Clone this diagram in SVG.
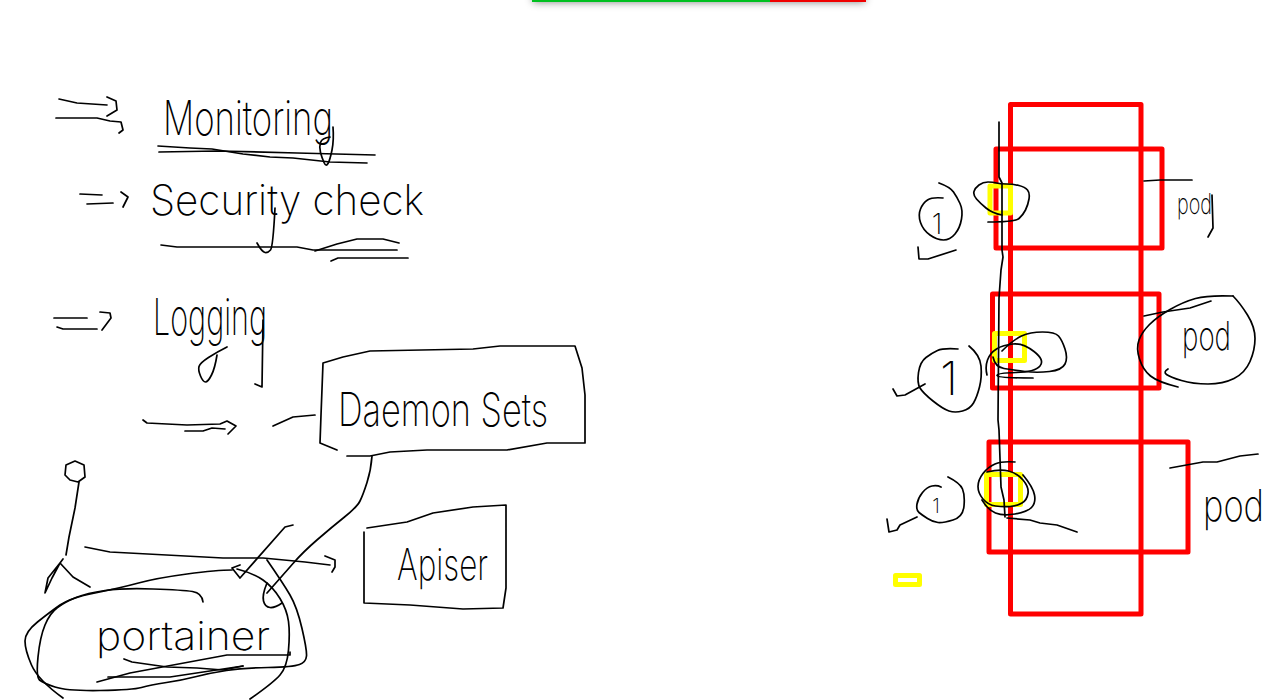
<svg xmlns="http://www.w3.org/2000/svg" width="1286" height="700" viewBox="0 0 1286 700">
<style>
.s{fill:none;stroke:#000;stroke-width:1.7;stroke-linejoin:round;stroke-linecap:round}
.r{fill:none;stroke:#f00;stroke-width:5;stroke-linejoin:round}
.y{fill:none;stroke:#ff0;stroke-width:5;stroke-linejoin:round}
.t{font-family:"Inter","Liberation Sans",Arial,sans-serif;font-weight:200;fill:#000}
</style>
<defs><filter id="b" x="-10%" y="-100%" width="120%" height="400%"><feGaussianBlur stdDeviation="4"/></filter></defs>
<rect width="1286" height="700" fill="#fff"/>
<g id="topbar">
<rect x="533" y="-8" width="332" height="10" fill="#000" opacity="0.5" filter="url(#b)"/>
<rect x="532" y="-6" width="238" height="8" fill="#00c020"/>
<rect x="770" y="-6" width="96" height="8" fill="#f00000"/>
</g>
<g id="red-boxes">
<rect class="r" x="1010.5" y="104.5" width="130.500" height="509.500"/>
<rect class="r" x="996" y="149" width="166" height="99"/>
<rect class="r" x="992.500" y="294" width="166.500" height="94"/>
<rect class="r" x="989" y="442" width="199" height="110"/>
</g>
<g id="yellow-boxes">
<rect class="y" x="990" y="186" width="20.500" height="27"/>
<rect class="y" x="994.500" y="333.500" width="30" height="27"/>
<rect class="y" x="986.500" y="474.500" width="34" height="30"/>
<rect class="y" x="895.500" y="575.500" width="24" height="9"/>
</g>
<g id="connectors">
<polyline class="s" points="59,99 77,103 107,105"/>
<polyline class="s" points="107,97 116,101 117,110 107,116"/>
<polyline class="s" points="56,118 97,118 110,121 121,122 123,130 119,133"/>
<polyline class="s" points="80,194 102,195"/><polyline class="s" points="87,204 113,203"/><polyline class="s" points="121,192 128,197 123,207"/>
<polyline class="s" points="54,318 87,318"/><polyline class="s" points="57,327 63,329 97,329"/><polyline class="s" points="100,312 110,313 111,318 102,330"/>
<polyline class="s" points="143,420 147,423 187,425 220,424 227,421 236,426 228,434"/>
<polyline class="s" points="185,431 203,431 212,428 225,429"/>
<polyline class="s" points="273,426 293,417 315,415"/>
<path class="s" d="M372,456 Q371,470 367,482.500 363,495 360,501 357,507 344.500,517 332,527 317.500,539.500 303,552 293,563.500 283,575 267,593"/>
<polyline class="s" points="85,547 110,552 223,558 263,558 305,562 330,565"/>
<polyline class="s" points="325,556 335,560 335,567 332,572"/>
<polyline class="s" points="293,525 285,527 240,578 232,568 240,565"/>
<path class="s" d="M267,583 Q262,595 263.500,601 265,607 270,607.500 275,608 282,603"/>
<polyline class="s" points="158,146 190,148 212,149 243,154 270,157 293,158 330,162 367,163"/>
<polyline class="s" points="159,152 217,151 297,153 375,155"/>
<path class="s" d="M333,127 Q334,140 332,150 330,160 328,163.500 326,167 324,162.500 322,158 320.500,152.500 319,147 320.500,142.500 322,138 330,137"/>
<polyline class="s" points="161,245 177,247 297,247 313,250 397,250"/>
<polyline class="s" points="315,251 337,244 357,239 383,239 399,243"/>
<polyline class="s" points="331,261 338,258 408,258"/>
<path class="s" d="M275,208 Q273,247 270.500,250 268,253 265,252.500 262,252 257,243 257,237"/>
<polyline class="s" points="263,320 262,387 255,384"/>
<path class="s" d="M227,347 Q217,352 208.500,357.500 200,363 199,366.500 198,370 200.500,376 203,382 205.500,382 208,382 211.500,375 215,368 217,355"/>
<polyline class="s" points="999,122 999,177 1002,183 1002,250 1003,257 1001,270 999,298 998,420 999,430 1001,487 1004,500 1005,517"/>
<polyline class="s" points="1144,181 1160,180 1192,180"/>
<polyline class="s" points="1212,195 1213,228 1208,237"/>
<polyline class="s" points="1211,301 1190,308 1163,312 1144,316"/>
<polyline class="s" points="1170,468 1203,462 1217,462 1240,456 1258,454"/>
<polyline class="s" points="1007,518 1030,520 1040,523 1057,525 1077,532"/>
<polyline class="s" points="918,247 919,259 928,259 956,250"/>
<polyline class="s" points="893,389 897,396 905,395 925,384"/>
<polyline class="s" points="887,519 889,532 897,530 900,525 917,517"/>
</g>
<g id="monitoring"><text class="t" x="163" y="135" font-size="48" textLength="170" lengthAdjust="spacingAndGlyphs">Monitoring</text></g>
<g id="security-check"><text class="t" x="150" y="215" font-size="42" textLength="274" lengthAdjust="spacingAndGlyphs">Security check</text></g>
<g id="logging"><text class="t" x="153" y="335" font-size="50" textLength="114" lengthAdjust="spacingAndGlyphs">Logging</text></g>
<g id="daemonsets">
<polyline class="s" points="337,450 320,443 321,415 323,363 343,357 370,351 473,349 500,346 575,346 582,368 585,395 585,443 547,443 507,450 427,450 390,452 370,456 347,456"/>
<text class="t" x="338" y="426" font-size="46" textLength="210" lengthAdjust="spacingAndGlyphs">Daemon Sets</text>
</g>
<g id="apiserver">
<polyline class="s" points="367,528 407,522 433,513 473,507 506,505 506,588 503,608 463,609 410,605 364,603 364,532"/>
<text class="t" x="397" y="580" font-size="44" textLength="91" lengthAdjust="spacingAndGlyphs">Apiser</text>
</g>
<g id="actor">
<polygon class="s" points="75,461 84,465 85,477 78,482 70,480 65,475 66,465"/>
<polyline class="s" points="79,482 75,508 69,537 66,555"/>
<polyline class="s" points="63,559 60,563 48,578 45,593 52,578 60,563 73,577 90,587"/>
</g>
<g id="portainer">
<path class="s" d="M232,570 Q217,570 187,574 157,578 138.500,583 120,588 95,593 70,598 60,605 50,612 37.500,622 25,632 25,641 25,650 31.500,665 38,680 63,698"/>
<path class="s" d="M203,602 Q202,593 192.500,591.500 183,590 153,589 123,588 105,590.500 87,593 76,597.500 65,602 57.500,607.500 50,613 45,625 40,637 38,657 36,677 39.500,680 43,683 55,687 67,691 100,690.500 133,690 141.500,687.500 150,685 166.500,682.500 183,680 196.500,676.500 210,673 226.500,670.500 243,668 268,667.500 293,667 299.500,664.500 306,662 306.500,656 307,650 302,628.500 297,607 290,595 283,583 267,560"/>
<path class="s" d="M237,569 Q253,573 263,580 273,587 280,598.500 287,610 288.500,621.500 290,633 288.500,650 287,667 280,675 273,683 250,699"/>
<polyline class="s" points="124,659 132,662 167,667 197,668 223,670 243,666"/>
<polyline class="s" points="97,682 130,673 227,655 290,655 290,652"/>
<polyline class="s" points="108,677 170,677 243,666"/>
<text class="t" x="96" y="650" font-size="40" textLength="174" lengthAdjust="spacingAndGlyphs">portainer</text>
</g>
<g id="node-1">
<path class="s" d="M939,183 Q950,187 953.500,192 957,197 960,203.500 963,210 961.500,219 960,228 955,234 950,240 943.500,240 937,240 930,235 923,230 920.500,222.500 918,215 920.500,209 923,203 927.500,200 932,197 943,198"/>
<text class="t" x="937" y="234" font-size="28" text-anchor="middle">1</text>
<path class="s" d="M1002,215 Q992,213 986,208 980,203 976.500,199 973,195 974,191.500 975,188 979,185 983,182 988,182 993,182 996.500,183 1000,184 1006.500,184 1013,184 1019,185.500 1025,187 1027.500,190 1030,193 1029,199 1028,205 1025.500,210 1023,215 1019,218.500 1015,222 988,222"/>
</g>
<g id="node-2">
<path class="s" d="M969,346 Q980,355 981,366 982,377 979.500,387 977,397 973.500,403 970,409 962.500,411 955,413 949,411 943,409 933,401 923,393 920,388 917,383 918.500,372.500 920,362 926,357.500 932,353 937.500,350.500 943,348 958,349"/>
<text class="t" x="949" y="395" font-size="46" text-anchor="middle">1</text>
<path class="s" d="M1002,351 Q1013,340 1021.500,336 1030,332 1042.500,332 1055,332 1058.500,336 1062,340 1065,349 1068,358 1065,364 1062,370 1049.500,371.500 1037,373 1025,371.500 1013,370 1004,368.500 995,367 993,357"/>
<path class="s" d="M987,375 Q985,367 987.500,360 990,353 996.500,349 1003,345 1013,344 1023,343 1034,351.500 1045,360 1040,366 1035,372 1016,372.500 997,373 997,375.500 997,378 1033,378"/>
</g>
<g id="node-3">
<path class="s" d="M948,477 Q960,483 962.500,489 965,495 964,506 963,517 953,520 943,523 938,522.500 933,522 927.500,518.500 922,515 919,512.500 916,510 917,504 918,498 922.500,492.500 927,487 932,486 937,485 941,487"/>
<text class="t" x="936" y="513" font-size="20" text-anchor="middle">1</text>
<path class="s" d="M1015,462 Q1002,461 995,464 988,467 983,473.500 978,480 978,486.500 978,493 983,499 988,505 995.500,506 1003,507 1010,506.500 1017,506 1022,503 1027,500 1028,493.500 1029,487 1023,480 1017,473 1008.500,471 1000,469 987,472"/>
<path class="s" d="M982,500 Q988,510 995.500,513 1003,516 1015,514 1027,512 1031.500,507.500 1036,503 1034.500,495 1033,487 1023,475"/>
</g>
<g id="pod-1"><text class="t" x="1177" y="214" font-size="28" textLength="35" lengthAdjust="spacingAndGlyphs">pod</text></g>
<g id="pod-2">
<path class="s" d="M1178,387 Q1158,382 1150.500,376 1143,370 1139.500,359 1136,348 1139,340 1142,332 1149.500,324.500 1157,317 1170,309.500 1183,302 1195.500,298.500 1208,295 1233,296"/>
<path class="s" d="M1168,369 Q1163,372 1166.500,374.500 1170,377 1181.500,380.500 1193,384 1208,384 1223,384 1234,378.500 1245,373 1250,361.500 1255,350 1255,338.500 1255,327 1247.500,315 1240,303 1233,296"/>
<text class="t" x="1182" y="350" font-size="40" textLength="49" lengthAdjust="spacingAndGlyphs">pod</text>
</g>
<g id="pod-3"><text class="t" x="1203" y="521" font-size="44" textLength="61" lengthAdjust="spacingAndGlyphs">pod</text></g>
</svg>
